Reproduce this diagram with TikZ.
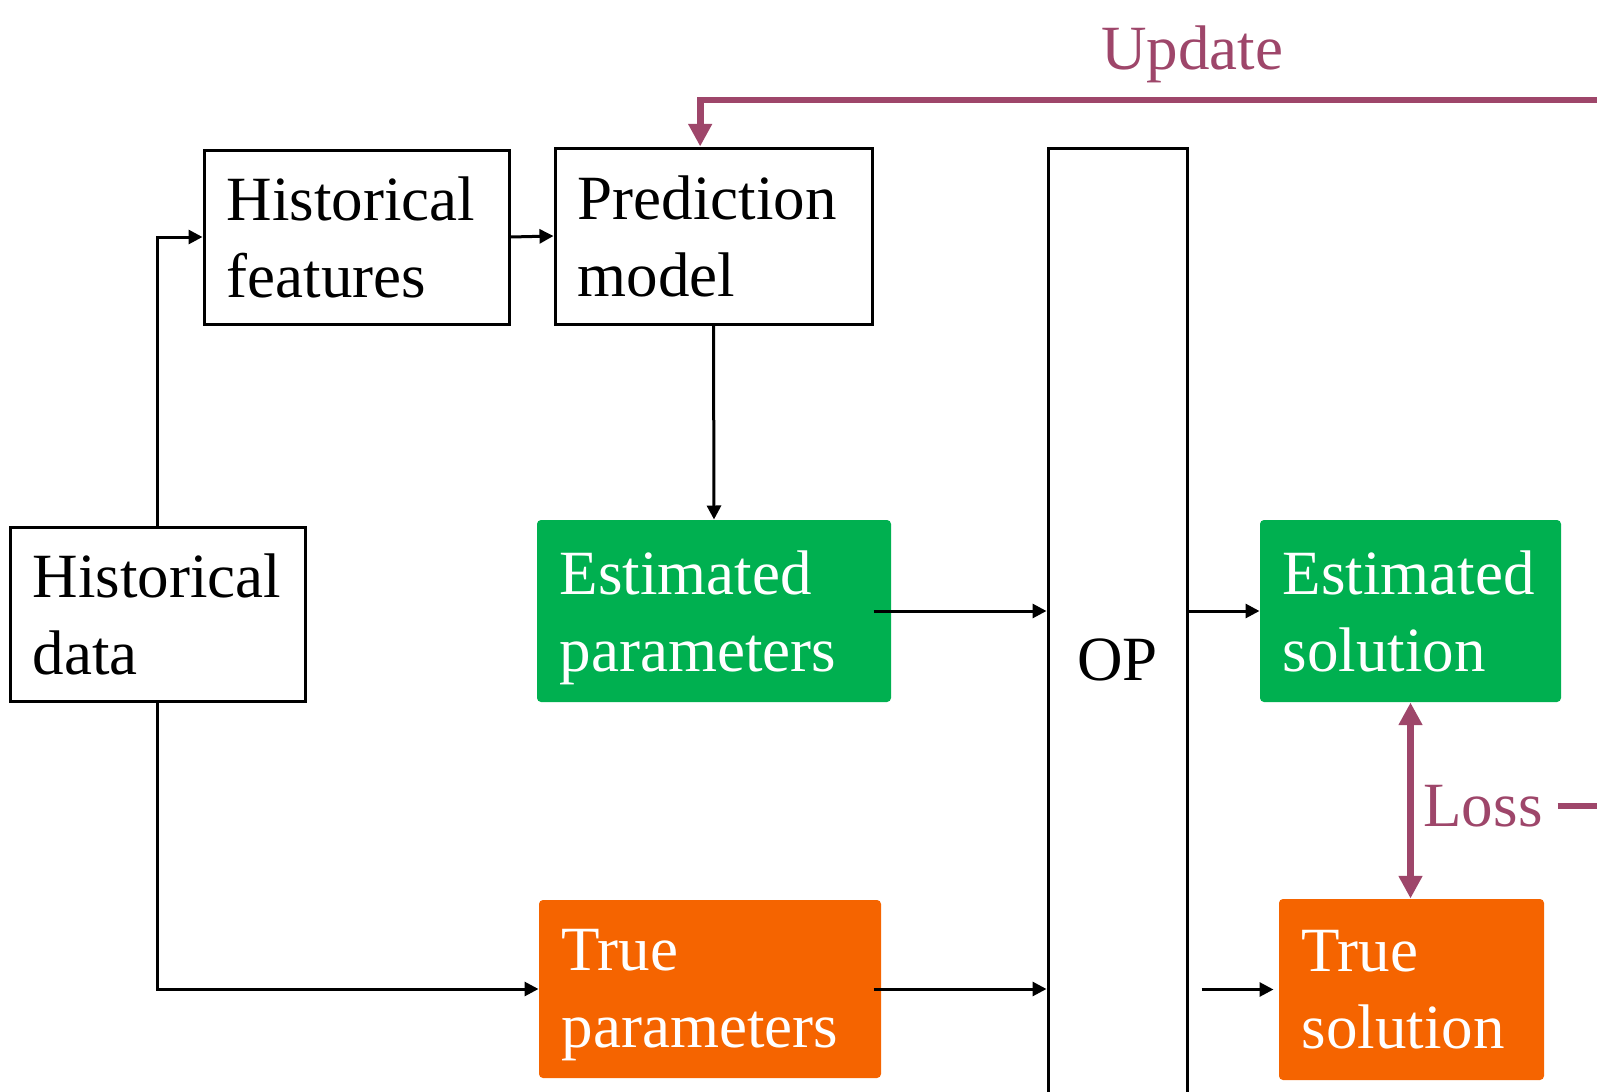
\documentclass[tikz,border=0pt]{standalone}
\usepackage{fontspec}
\setmainfont{Liberation Serif}
\usetikzlibrary{arrows.meta}

\definecolor{updpurple}{RGB}{158,70,106}
\definecolor{estgreen}{RGB}{0,176,80}
\definecolor{trueorange}{RGB}{245,100,0}

\tikzset{every picture/.style={line width=0.75pt}}

\begin{document}
\begin{tikzpicture}[x=0.75pt,y=0.75pt,yscale=-1,
  txt/.style={font=\fontsize{47.25}{57.75}\selectfont},
  blkbox/.style={txt, draw, line width=2.25pt, inner xsep=17pt, inner ysep=4pt, align=left},
  grnbox/.style={txt, fill=estgreen, text=white, rounded corners=3pt, inner xsep=17pt, inner ysep=4pt, align=left, text depth=58pt},
  orgbox/.style={grnbox, fill=trueorange},
  arr/.style={line width=2.25pt, -{Triangle[length=10.5pt,width=10.5pt]}},
  updline/.style={draw=updpurple, line width=5pt}
]
\useasboundingbox (0,0) rectangle (1597,1092);
\clip (0,0) rectangle (1597,1092);

%Shape: Rectangle
\node [blkbox, text width=187.25pt, minimum height=130.5pt] (hdata) at (157.5,614) {Historical\\data};
%Shape: Rectangle
\node [blkbox, text width=194.75pt, minimum height=130.5pt] (hfeat) at (356.5,237) {Historical\\features};
%Shape: Rectangle
\node [blkbox, text width=203.75pt, minimum height=132pt] (pmodel) at (713.5,236) {Prediction\\model};
%Shape: Rectangle
\node [grnbox, text width=231.5pt, minimum height=136.5pt] (estpar) at (714,611) {Estimated\\parameters};
%Shape: Rectangle
\node [orgbox, text width=222.5pt, minimum height=133.5pt] (truepar) at (710,989) {True\\parameters};
%Shape: Rectangle
\node [blkbox, minimum width=104.25pt, minimum height=768pt] (op) at (1117.5,660) {OP};
%Shape: Rectangle
\node [grnbox, text width=191.75pt, minimum height=136.5pt] (estsol) at (1410.5,611) {Estimated\\solution};
%Shape: Rectangle
\node [orgbox, text width=164.75pt, minimum height=135.75pt] (truesol) at (1411.5,989.5) {True\\solution};

% Text Node
\node [txt, text=updpurple] (updtxt) at (1192,54) {Update};
% Text Node
\node [txt, text=updpurple, inner xsep=11pt] (losstxt) at (1483,806) {Loss};

\coordinate (updR) at (1620,100);
\coordinate (lossR) at (1620,806);

%Straight Lines
\draw [arr] (hdata.north) |- (hfeat.west);
\draw [arr] (hdata.south) |- (truepar.west);
\draw [arr] (hfeat.east) -- (pmodel.west);
\draw [arr] (pmodel.south) -- (estpar.north);
\draw [arr] ([xshift=-13.5pt]estpar.east) -- (estpar.east -| op.west);
\draw [arr] ([xshift=-6pt]truepar.east) -- (truepar.east -| op.west);
\draw [arr] (op.east |- estsol.west) -- (estsol.west);
\draw [arr, shorten >=3.75pt] (op.east |- truesol.west) ++(13,0) -- (truesol.west);

%Straight Lines
\draw [updline, -{Triangle[length=17pt,width=17pt]}] (updR) -| ([xshift=-10pt]pmodel.north);
\draw [updline, {Triangle[length=17pt,width=17pt]}-{Triangle[length=17pt,width=17pt]}] (estsol.south) -- (estsol.south |- truesol.north);
\draw [updline] (losstxt.east) -- (lossR);

\end{tikzpicture}
\end{document}
